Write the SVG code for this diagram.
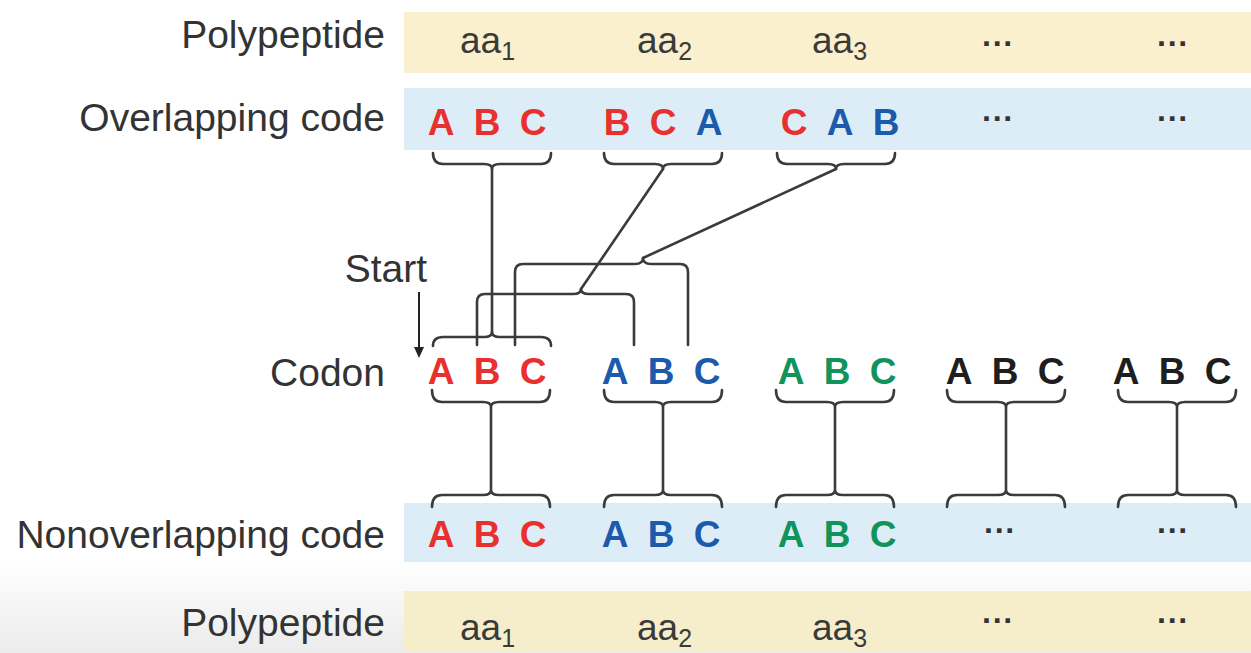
<svg xmlns="http://www.w3.org/2000/svg" width="1251" height="653" viewBox="0 0 1251 653">
<defs>
<linearGradient id="bottomShade" x1="0" y1="0" x2="0" y2="1">
<stop offset="0" stop-color="#ffffff"/>
<stop offset="1" stop-color="#ebebeb"/>
</linearGradient>
<style>
.lbl{font-family:"Liberation Sans",Arial,sans-serif;font-size:39px;fill:#333;text-anchor:end}
.aa{font-family:"Liberation Sans",Arial,sans-serif;font-size:37px;fill:#3a3a3a}
.sub{font-size:25px}
.b{font-family:"Liberation Sans",Arial,sans-serif;font-size:37px;font-weight:bold;text-anchor:middle}
.dots{font-family:"Liberation Sans",Arial,sans-serif;font-size:32px;font-weight:bold;fill:#333;text-anchor:middle}
.r{fill:#e8302e}.u{fill:#1c5aab}.g{fill:#11935c}.k{fill:#1e1e1e}
.ln{fill:none;stroke:#3b3b3b;stroke-width:2.6;stroke-linecap:round;stroke-linejoin:round}
.yel{fill:#fbf0cd}.blu{fill:#ddedf8}
</style>
</defs>
<rect x="0" y="0" width="1251" height="653" fill="#ffffff"/>
<rect x="0" y="560" width="1251" height="93" fill="url(#bottomShade)"/>

<g id="row-polypeptide-top">
<rect class="yel" x="404" y="12" width="847" height="61"/>
<text class="lbl" x="385" y="48">Polypeptide</text>
<text class="aa" x="460" y="53">aa<tspan class="sub" dy="7">1</tspan></text>
<text class="aa" x="637" y="53">aa<tspan class="sub" dy="7">2</tspan></text>
<text class="aa" x="812" y="53">aa<tspan class="sub" dy="7">3</tspan></text>
<text class="dots" x="998" y="54">···</text>
<text class="dots" x="1173" y="54">···</text>
</g>

<g id="row-overlapping">
<rect class="blu" x="404" y="88" width="847" height="62"/>
<text class="lbl" x="385" y="131">Overlapping code</text>
<text class="b r" x="441" y="135">A</text><text class="b r" x="487" y="135">B</text><text class="b r" x="533" y="135">C</text>
<text class="b r" x="617" y="135">B</text><text class="b r" x="663" y="135">C</text><text class="b u" x="709" y="135">A</text>
<text class="b r" x="794" y="135">C</text><text class="b u" x="840" y="135">A</text><text class="b u" x="886" y="135">B</text>
<text class="dots" x="998" y="129">···</text>
<text class="dots" x="1173" y="129">···</text>
</g>

<g id="start-marker">
<text class="lbl" x="427" y="282">Start</text>
<line x1="419" y1="292" x2="419" y2="349" stroke="#222" stroke-width="2"/>
<polygon points="414,347 424,347 419,358" fill="#222"/>
</g>

<g id="row-codon">
<text class="lbl" x="385" y="386">Codon</text>
<text class="b r" x="441" y="384">A</text><text class="b r" x="487" y="384">B</text><text class="b r" x="533" y="384">C</text>
<text class="b u" x="615" y="384">A</text><text class="b u" x="661" y="384">B</text><text class="b u" x="707" y="384">C</text>
<text class="b g" x="791" y="384">A</text><text class="b g" x="837" y="384">B</text><text class="b g" x="883" y="384">C</text>
<text class="b k" x="959" y="384">A</text><text class="b k" x="1005" y="384">B</text><text class="b k" x="1051" y="384">C</text>
<text class="b k" x="1126" y="384">A</text><text class="b k" x="1172" y="384">B</text><text class="b k" x="1218" y="384">C</text>
</g>

<g id="row-nonoverlapping">
<rect class="blu" x="404" y="503" width="847" height="59"/>
<text class="lbl" x="385" y="548">Nonoverlapping code</text>
<text class="b r" x="441" y="547">A</text><text class="b r" x="487" y="547">B</text><text class="b r" x="533" y="547">C</text>
<text class="b u" x="615" y="547">A</text><text class="b u" x="661" y="547">B</text><text class="b u" x="707" y="547">C</text>
<text class="b g" x="791" y="547">A</text><text class="b g" x="837" y="547">B</text><text class="b g" x="883" y="547">C</text>
<text class="dots" x="1000" y="541">···</text>
<text class="dots" x="1173" y="541">···</text>
</g>

<g id="row-polypeptide-bottom">
<rect class="yel" x="404" y="591" width="847" height="60" style="fill:#f6eecb"/>
<text class="lbl" x="385" y="636">Polypeptide</text>
<text class="aa" x="460" y="640">aa<tspan class="sub" dy="7">1</tspan></text>
<text class="aa" x="637" y="640">aa<tspan class="sub" dy="7">2</tspan></text>
<text class="aa" x="812" y="640">aa<tspan class="sub" dy="7">3</tspan></text>
<text class="dots" x="998" y="631">···</text>
<text class="dots" x="1173" y="631">···</text>
</g>

<g id="connectors">
<!-- overlapping code braces -->
<path class="ln" d="M433,153 Q433,164 443,164 H484 Q492,164 492,169 Q492,164 500,164 H541 Q551,164 551,153"/>
<path class="ln" d="M604,153 Q604,164 614,164 H655 Q663,164 663,169 Q663,164 671,164 H712 Q722,164 722,153"/>
<path class="ln" d="M777,153 Q777,164 787,164 H828 Q836,164 836,169 Q836,164 844,164 H885 Q895,164 895,153"/>
<!-- ABC reading frame -->
<line class="ln" x1="492" y1="169" x2="492" y2="332"/>
<path class="ln" d="M433,346 Q433,337 443,337 H484 Q492,337 492,332 Q492,337 500,337 H541 Q551,337 551,346"/>
<!-- BCA reading frame -->
<line class="ln" x1="663" y1="169" x2="581" y2="289"/>
<path class="ln" d="M477,345 V302 Q477,294 485,294 H573 Q581,294 581,289 Q581,294 589,294 H626 Q634,294 634,302 V345"/>
<!-- CAB reading frame -->
<line class="ln" x1="836" y1="169" x2="643" y2="258"/>
<path class="ln" d="M515,345 V272 Q515,264 523,264 H635 Q643,264 643,258 Q643,264 651,264 H680 Q688,264 688,272 V345"/>
<!-- codon to nonoverlapping -->
<path class="ln" d="M432,390 Q432,402 442,402 H483 Q491,402 491,407 Q491,402 499,402 H540 Q550,402 550,390 M491,407 V490 M432,507 Q432,495 442,495 H483 Q491,495 491,490 Q491,495 499,495 H540 Q550,495 550,507"/>
<path class="ln" d="M604,390 Q604,402 614,402 H655 Q663,402 663,407 Q663,402 671,402 H712 Q722,402 722,390 M663,407 V490 M604,507 Q604,495 614,495 H655 Q663,495 663,490 Q663,495 671,495 H712 Q722,495 722,507"/>
<path class="ln" d="M776,390 Q776,402 786,402 H827 Q835,402 835,407 Q835,402 843,402 H884 Q894,402 894,390 M835,407 V490 M776,507 Q776,495 786,495 H827 Q835,495 835,490 Q835,495 843,495 H884 Q894,495 894,507"/>
<path class="ln" d="M947,390 Q947,402 957,402 H998 Q1006,402 1006,407 Q1006,402 1014,402 H1055 Q1065,402 1065,390 M1006,407 V490 M947,507 Q947,495 957,495 H998 Q1006,495 1006,490 Q1006,495 1014,495 H1055 Q1065,495 1065,507"/>
<path class="ln" d="M1118,390 Q1118,402 1128,402 H1169 Q1177,402 1177,407 Q1177,402 1185,402 H1226 Q1236,402 1236,390 M1177,407 V490 M1118,507 Q1118,495 1128,495 H1169 Q1177,495 1177,490 Q1177,495 1185,495 H1226 Q1236,495 1236,507"/>
</g>
</svg>
